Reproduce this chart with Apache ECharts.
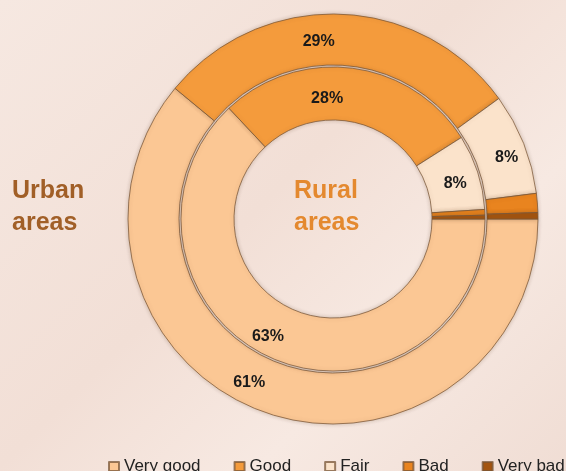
<!DOCTYPE html>
<html>
<head>
<meta charset="utf-8">
<title>Urban / Rural areas</title>
<script src="https://cdn.jsdelivr.net/npm/echarts@6/dist/echarts.min.js"></script>
<style>
    html, body { margin: 0; padding: 0; }
    body { background: linear-gradient(135deg, #f6e8e1 0%, #f2dfd6 45%, #f7e9e2 70%, #f0ddd4 100%); }
    #chart { width: 566px; height: 471px; }
</style>
</head>
<body>
<div id="chart"></div>
<script>
    // categories and values
    var categories = ['Very good', 'Good', 'Fair', 'Bad', 'Very bad'];
    var urbanValues = [61, 29, 8, 1.5, 0.5];
    var ruralValues = [63, 28, 8, 0.6, 0.4];
    var labelShown = [true, true, true, false, false];
    var colors = ['#fbc794', '#f49b3c', '#fbe3cb', '#e9841f', '#a3540f'];

    // small nudges so the % labels sit where the original put them
    var urbanLabelOffset = [[-22, -8], [-20, 5], [4, 6], [0, 0], [0, 0]];
    var ruralLabelOffset = [[-14, 0], [-22, 7], [0, 4], [0, 0], [0, 0]];

    var font = '"Liberation Sans", Arial, sans-serif';

    function buildData(values, offsets) {
        return categories.map(function (name, i) {
            return {
                name: name,
                value: values[i],
                label: { show: labelShown[i], offset: offsets[i] }
            };
        });
    }

    var ringStyle = {
        borderColor: 'rgba(120, 85, 55, 0.75)',
        borderWidth: 1,
        shadowColor: 'rgba(90, 60, 30, 0.25)',
        shadowBlur: 4
    };

    var ringLabel = {
        position: 'inside',
        formatter: '{c}%',
        color: '#1a1a1a',
        fontSize: 16,
        fontWeight: 'bold',
        fontFamily: font
    };

    var myChart = echarts.init(document.getElementById('chart'));

    var option = {
        backgroundColor: 'transparent',
        color: colors,
        animation: false,
        legend: {
            left: 103,
            top: 453,
            width: 800,
            itemWidth: 10,
            itemHeight: 9,
            itemGap: 33,
            icon: 'rect',
            data: categories,
            textStyle: {
                color: '#222',
                fontSize: 17,
                fontFamily: font
            }
        },
        graphic: [
            {
                type: 'text',
                left: 12,
                top: 175,
                style: {
                    text: 'Urban\nareas',
                    fill: '#a15f27',
                    font: 'bold 25px ' + font,
                    lineHeight: 32
                }
            },
            {
                type: 'text',
                left: 294,
                top: 175,
                style: {
                    text: 'Rural\nareas',
                    fill: '#e4892f',
                    font: 'bold 25px ' + font,
                    lineHeight: 32
                }
            }
        ],
        series: [
            {
                name: 'Urban areas',
                type: 'pie',
                center: [333, 219],
                radius: [154, 205],
                startAngle: 0,
                clockwise: true,
                avoidLabelOverlap: false,
                itemStyle: ringStyle,
                label: ringLabel,
                labelLine: { show: false },
                data: buildData(urbanValues, urbanLabelOffset)
            },
            {
                name: 'Rural areas',
                type: 'pie',
                center: [333, 219],
                radius: [99, 152],
                startAngle: 0,
                clockwise: true,
                avoidLabelOverlap: false,
                itemStyle: ringStyle,
                label: ringLabel,
                labelLine: { show: false },
                data: buildData(ruralValues, ruralLabelOffset)
            }
        ]
    };

    myChart.setOption(option, true);
</script>
</body>
</html>
